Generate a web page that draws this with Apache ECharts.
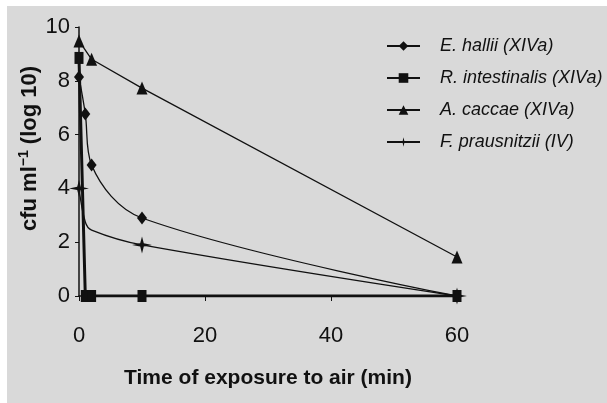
<!DOCTYPE html>
<html>
<head>
<meta charset="utf-8">
<script src="https://cdn.jsdelivr.net/npm/echarts@6/dist/echarts.min.js"></script>
<style>
  html, body { margin: 0; padding: 0; background: #ffffff; }
  #chart { width: 607px; height: 403px; }
</style>
</head>
<body>
<div id="chart"></div>
<script>
// Survival of gut anaerobes after exposure to air (log10 cfu per ml)
const seriesNames = [
  'E. hallii (XIVa)',
  'R. intestinalis (XIVa)',
  'A. caccae (XIVa)',
  'F. prausnitzii (IV)'
];

// [time (min), log10 cfu/ml]
const eHallii = [[0, 8.14], [1, 6.77], [2, 4.87], [10, 2.9], [60, 0]];
const rIntestinalis = [[0, 8.85], [1, 0], [2, 0], [10, 0], [60, 0]];
const aCaccae = [[0, 9.48], [2, 8.8], [10, 7.73], [60, 1.45]];
const fPrausnitzii = [[0, 4.0], [1, 2.75], [2, 2.45], [10, 1.9], [60, 0]];

const xTicks = [0, 20, 40, 60];
const yTicks = [0, 2, 4, 6, 8, 10];

const sans = "'Liberation Sans', Arial, sans-serif";

// four-point star used for F. prausnitzii
const starPath = 'path://M0,-10 L1.8,-1.8 L10,0 L1.8,1.8 L0,10 L-1.8,1.8 L-10,0 L-1.8,-1.8 Z';

const chart = echarts.init(document.getElementById('chart'), null, { renderer: 'canvas' });

// builds a black line series; `hidden` lists times whose marker is not drawn
function lineSeries(name, data, symbol, size, width, smooth, hidden) {
  const hide = hidden || [];
  return {
    name: name,
    type: 'line',
    data: data.map(function (p) {
      return hide.indexOf(p[0]) >= 0 ? { value: p, symbol: 'none' } : { value: p };
    }),
    symbol: symbol,
    symbolSize: size,
    showAllSymbol: true,
    smooth: smooth,
    lineStyle: { color: '#111', width: width },
    itemStyle: { color: '#111', borderWidth: 0 },
    emphasis: { disabled: true },
    z: 3
  };
}

chart.setOption({
  animation: false,
  backgroundColor: '#ffffff',
  graphic: [{
    type: 'rect',
    left: 7, top: 6,
    shape: { width: 600, height: 397 },
    style: { fill: '#d9d9d9' },
    z: -10
  }],
  grid: { left: 79, right: 150, top: 27, bottom: 107, containLabel: false },
  xAxis: {
    type: 'value',
    min: xTicks[0], max: xTicks[xTicks.length - 1], interval: 20,
    name: 'Time of exposure to air (min)',
    nameLocation: 'middle',
    nameGap: 72,
    nameMoveOverlap: false,
    nameTextStyle: { fontFamily: sans, fontWeight: 'bold', fontSize: 21, color: '#111' },
    axisLine: { lineStyle: { color: '#111', width: 1.5 } },
    axisTick: { show: true, length: 5, lineStyle: { color: '#111' } },
    axisLabel: { fontFamily: sans, fontSize: 22, color: '#111', margin: 29 },
    splitLine: { show: false }
  },
  yAxis: {
    type: 'value',
    min: yTicks[0], max: yTicks[yTicks.length - 1], interval: 2,
    name: '{a|cfu ml}{s|−1}{a| (log 10)}',
    nameLocation: 'middle',
    nameGap: 36,
    nameMoveOverlap: false,
    nameTextStyle: {
      rich: {
        a: { fontFamily: sans, fontWeight: 'bold', fontSize: 22, color: '#111', lineHeight: 26 },
        s: { fontFamily: sans, fontWeight: 'bold', fontSize: 14, color: '#111', verticalAlign: 'top', lineHeight: 26 }
      },
      padding: [0, 0, 0, 26]
    },
    axisLine: { show: true, lineStyle: { color: '#111', width: 1.5 } },
    axisTick: { show: true, length: 4, lineStyle: { color: '#111' } },
    axisLabel: { fontFamily: sans, fontSize: 22, color: '#111', margin: 9 },
    splitLine: { show: false }
  },
  legend: {
    orient: 'vertical',
    left: 381, top: 31,
    itemWidth: 33, itemHeight: 12,
    itemGap: 12,
    textStyle: { fontFamily: sans, fontStyle: 'italic', fontSize: 18, color: '#111', lineHeight: 20, padding: [0, 0, 0, 15] },
    data: seriesNames
  },
  series: [
    lineSeries(seriesNames[0], eHallii, 'diamond', [10, 13], 1.3, 0.35),
    lineSeries(seriesNames[1], rIntestinalis, 'rect', [9, 12], 3, false),
    lineSeries(seriesNames[2], aCaccae, 'triangle', [11, 13], 1.3, false),
    lineSeries(seriesNames[3], fPrausnitzii, starPath, [20, 17], 1.3, 0.35, [1, 2])
  ]
});
</script>
</body>
</html>
